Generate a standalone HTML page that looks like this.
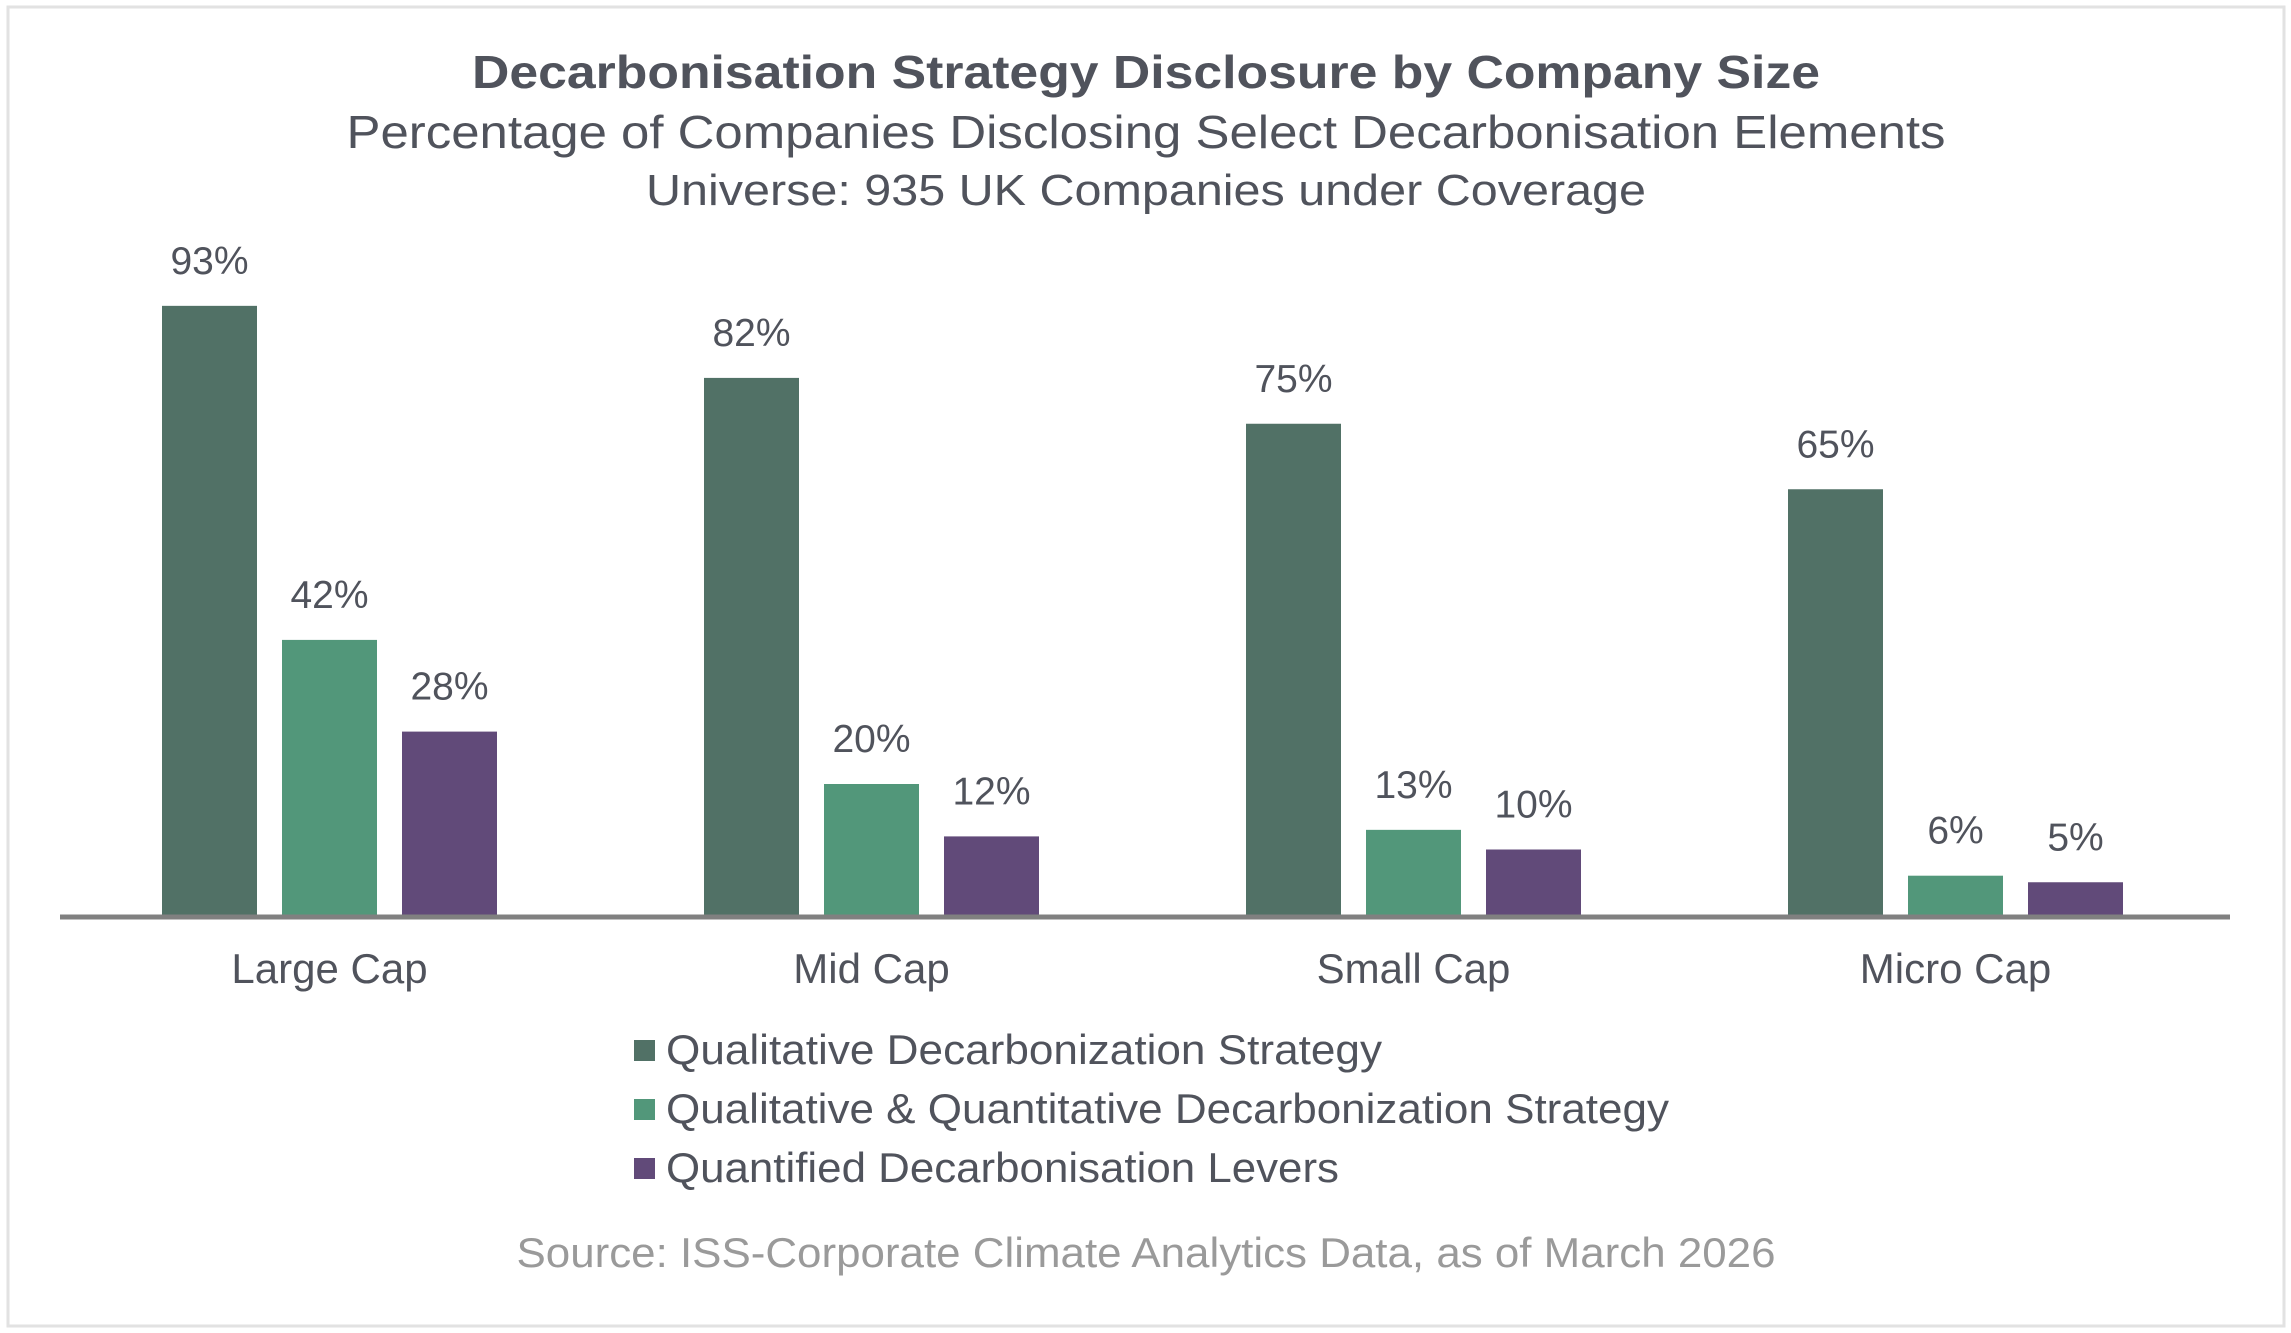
<!DOCTYPE html>
<html><head><meta charset="utf-8"><style>
html,body{margin:0;padding:0;background:#fff;}
svg{display:block;font-family:"Liberation Sans",sans-serif;}
</style></head><body>
<svg id="chart" width="2291" height="1333" viewBox="0 0 2291 1333" xmlns="http://www.w3.org/2000/svg">
<rect x="8" y="7" width="2276" height="1319" fill="#fff" stroke="#e2e2e2" stroke-width="3"/>
<text x="1146" y="88" text-anchor="middle" font-size="46" font-weight="bold" fill="#50535c" textLength="1348" lengthAdjust="spacingAndGlyphs">Decarbonisation Strategy Disclosure by Company Size</text>
<text x="1146" y="148" text-anchor="middle" font-size="46" fill="#50535c" textLength="1599" lengthAdjust="spacingAndGlyphs">Percentage of Companies Disclosing Select Decarbonisation Elements</text>
<text x="1146" y="205" text-anchor="middle" font-size="44" fill="#50535c" textLength="1000" lengthAdjust="spacingAndGlyphs">Universe: 935 UK Companies under Coverage</text>
<g id="bars"></g>
<line x1="60" y1="917" x2="2230" y2="917" stroke="#808080" stroke-width="5"/>
<g font-size="42" fill="#50535c">
<rect x="634" y="1040" width="21" height="21" fill="#517166"/>
<text x="666" y="1064" textLength="716" lengthAdjust="spacingAndGlyphs">Qualitative Decarbonization Strategy</text>
<rect x="634" y="1099" width="21" height="21" fill="#52977a"/>
<text x="666" y="1123" textLength="1003" lengthAdjust="spacingAndGlyphs">Qualitative &amp; Quantitative Decarbonization Strategy</text>
<rect x="634" y="1158" width="21" height="21" fill="#614a79"/>
<text x="666" y="1182" textLength="673" lengthAdjust="spacingAndGlyphs">Quantified Decarbonisation Levers</text>
</g>
<text x="1146" y="1267" text-anchor="middle" font-size="42" fill="#9a9a9a" textLength="1259" lengthAdjust="spacingAndGlyphs">Source: ISS-Corporate Climate Analytics Data, as of March 2026</text>
</svg>
<script>
const categories = ["Large Cap","Mid Cap","Small Cap","Micro Cap"];
const qualitative = [93,82,75,65];
const qualQuant = [42,20,13,6];
const levers = [28,12,10,5];
const valueLabels = [["93%","82%","75%","65%"],["42%","20%","13%","6%"],["28%","12%","10%","5%"]];
const series = [qualitative, qualQuant, levers];
const seriesNames = ["qualitative","qual-quant","levers"];
const colors = ["#517166","#52977a","#614a79"];
const NS = "http://www.w3.org/2000/svg";
const baseY = 915, pxPer = 6.55;
function yScale(v){ return baseY - v*pxPer; }
function xGroup(i){ return 162 + i*542; }
const barW = 95, barStep = 120;
const g = document.getElementById("bars");
categories.forEach((c,i)=>{
  series.forEach((s,j)=>{
    const x = xGroup(i) + j*barStep;
    const r = document.createElementNS(NS,"rect");
    
    
    r.setAttribute("x", x); r.setAttribute("y", yScale(s[i]));
    r.setAttribute("width", barW); r.setAttribute("height", baseY - yScale(s[i]));
    r.setAttribute("fill", colors[j]);
    g.appendChild(r);
    const t = document.createElementNS(NS,"text");
    
    
    t.setAttribute("x", x + barW/2); t.setAttribute("y", yScale(s[i]) - 32);
    t.setAttribute("text-anchor","middle"); t.setAttribute("font-size","39"); t.setAttribute("fill","#50535c");
    t.textContent = valueLabels[j][i];
    g.appendChild(t);
  });
  const ct = document.createElementNS(NS,"text");
  
  
  ct.setAttribute("x", xGroup(i) + barStep + barW/2); ct.setAttribute("y", 983);
  ct.setAttribute("text-anchor","middle"); ct.setAttribute("font-size","42"); ct.setAttribute("fill","#50535c");
  ct.textContent = c;
  g.appendChild(ct);
});
</script>
</body></html>
